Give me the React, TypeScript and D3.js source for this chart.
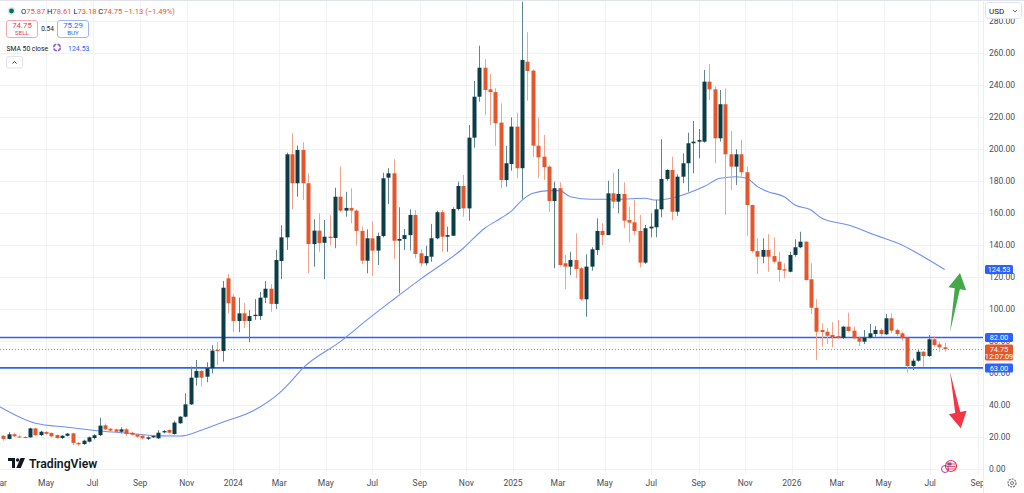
import React, { useEffect, useRef } from 'react';
import * as d3 from 'd3';

// weekly bars, first bar on Mon 6 Mar 2023
const firstBar = '2023-03-06';

const opens = [
  20.6, 18.6, 21.5, 20.1, 19.8, 19.6, 25.2, 21.0, 22.9, 22.3,
  21.0, 19.2, 20.6, 22.1, 16.1, 15.4, 16.9, 19.2, 21.0, 27.1,
  25.0, 24.6, 23.1, 24.6, 22.5, 21.4, 20.6, 18.7, 19.6, 19.0,
  22.7, 24.2, 21.7, 28.4, 32.5, 40.2, 56.9, 61.1, 57.5, 62.8,
  74.2, 73.6, 119.0, 107.5, 92.3, 97.1, 92.3, 95.4, 95.4, 106.9,
  112.5, 103.0, 129.8, 144.6, 196.5, 178.4, 199.2, 178.4, 140.4, 148.8,
  141.2, 145.0, 144.2, 170.0, 161.3, 163.0, 161.3, 148.6, 130.0, 144.0,
  136.3, 145.4, 181.9, 184.6, 142.5, 143.6, 146.0, 158.6, 134.6, 128.4,
  132.5, 144.0, 160.3, 145.0, 145.6, 162.3, 176.7, 162.7, 206.9, 232.5,
  250.6, 237.1, 235.4, 216.3, 180.4, 190.4, 213.8, 187.8, 254.4, 248.8,
  201.9, 195.0, 188.8, 167.3, 175.3, 128.4, 126.3, 130.4, 125.3, 105.9,
  126.3, 136.7, 148.6, 146.0, 172.1, 166.9, 171.7, 155.4, 154.0, 148.6,
  128.8, 150.2, 150.9, 162.1, 181.1, 186.7, 160.6, 182.5, 190.9, 203.4,
  204.4, 204.4, 241.9, 237.1, 206.5, 227.8, 196.5, 188.8, 196.5, 185.3,
  164.8, 136.0, 132.5, 136.7, 132.9, 129.4, 124.6, 123.1, 133.6, 138.4,
  141.9, 118.4, 100.6, 86.7, 85.6, 83.6, 82.9, 81.9, 88.8, 86.3,
  81.9, 79.4, 81.9, 84.2, 86.7, 84.0, 94.0, 86.7, 84.6, 81.9,
  64.2, 67.5, 73.1, 70.4, 80.9, 77.7, 75.87
];

const highs = [
  20.9, 22.9, 22.5, 20.8, 20.3, 25.6, 25.6, 23.7, 23.5, 22.7,
  21.4, 21.0, 22.3, 22.4, 16.7, 18.1, 20.2, 21.5, 31.9, 28.3,
  25.4, 25.0, 25.9, 25.4, 23.1, 22.0, 21.2, 20.2, 21.0, 24.2,
  24.2, 24.6, 30.0, 33.0, 47.1, 63.8, 67.9, 61.7, 66.5, 77.1,
  79.2, 117.3, 121.7, 109.0, 106.9, 103.5, 99.2, 106.0, 110.4, 117.3,
  115.5, 136.7, 152.1, 197.5, 209.6, 202.0, 204.0, 184.6, 155.9, 159.6,
  155.4, 158.4, 175.6, 188.8, 173.1, 175.3, 162.0, 151.3, 149.6, 154.8,
  147.5, 185.0, 187.8, 193.4, 163.4, 149.8, 162.1, 161.7, 137.1, 139.4,
  153.0, 161.3, 161.7, 151.3, 163.4, 179.4, 183.6, 214.8, 242.3, 264.4,
  256.0, 246.7, 237.8, 228.4, 201.7, 219.6, 222.5, 291.9, 272.8, 249.5,
  219.6, 208.6, 189.5, 179.4, 179.0, 133.6, 135.6, 147.1, 126.0, 134.0,
  138.4, 156.5, 153.4, 180.0, 185.0, 187.3, 179.0, 163.8, 168.0, 158.6,
  152.3, 159.6, 168.0, 205.9, 187.1, 195.0, 184.0, 197.1, 210.0, 217.3,
  212.3, 249.2, 252.9, 238.8, 236.7, 237.7, 211.0, 199.6, 205.4, 188.8,
  165.0, 144.0, 144.0, 146.7, 144.6, 135.6, 128.4, 135.6, 143.4, 148.1,
  142.2, 128.4, 105.9, 90.9, 88.0, 91.5, 93.0, 89.0, 97.5, 88.8,
  82.5, 86.7, 90.4, 89.2, 87.7, 96.7, 97.1, 87.7, 85.6, 81.9,
  69.0, 74.2, 73.6, 83.6, 82.9, 79.4, 78.61
];

const lows = [
  17.5, 18.3, 19.8, 19.2, 19.0, 19.4, 20.4, 20.3, 21.3, 19.6,
  18.7, 18.5, 20.2, 14.6, 14.4, 14.9, 16.5, 18.3, 20.4, 24.2,
  23.4, 22.7, 22.1, 20.4, 20.8, 19.4, 18.4, 17.9, 19.2, 18.6,
  22.1, 22.1, 21.3, 28.0, 32.1, 39.8, 51.9, 51.3, 54.0, 59.6,
  64.8, 66.9, 97.1, 85.3, 85.3, 88.0, 79.0, 93.0, 93.0, 103.5,
  98.1, 99.8, 118.4, 136.7, 162.1, 170.0, 167.9, 122.1, 126.3, 135.6,
  118.4, 139.8, 137.8, 160.4, 157.5, 153.4, 139.4, 128.0, 122.1, 120.6,
  127.3, 144.6, 165.4, 131.0, 109.6, 136.7, 136.3, 131.5, 126.3, 126.9,
  129.4, 143.4, 135.6, 135.6, 145.4, 161.3, 157.5, 155.0, 200.6, 229.4,
  221.0, 214.8, 201.7, 175.3, 176.3, 186.3, 181.5, 168.6, 230.0, 195.0,
  181.5, 180.4, 160.6, 125.3, 126.3, 112.1, 121.0, 119.0, 105.0, 95.0,
  123.8, 133.6, 139.8, 146.0, 162.7, 159.6, 150.3, 141.3, 146.0, 125.9,
  128.0, 144.6, 144.6, 157.1, 180.0, 155.4, 158.0, 178.4, 173.1, 184.6,
  194.0, 203.8, 230.4, 190.9, 204.4, 158.6, 174.2, 177.3, 181.5, 145.6,
  135.0, 121.7, 128.4, 123.1, 128.4, 116.9, 119.0, 122.7, 132.5, 137.8,
  117.5, 96.7, 67.9, 76.3, 78.0, 75.9, 80.9, 81.0, 85.6, 80.9,
  76.7, 77.9, 81.5, 82.5, 82.5, 83.6, 84.6, 83.1, 80.0, 60.0,
  61.7, 66.9, 63.8, 70.0, 76.3, 73.1, 73.18
];

const closes = [
  18.6, 21.5, 20.3, 19.6, 19.4, 25.2, 21.0, 23.1, 21.8, 20.2,
  19.1, 20.6, 21.9, 16.1, 15.2, 17.5, 19.6, 20.9, 26.9, 24.6,
  23.8, 23.1, 24.6, 21.7, 21.2, 20.0, 19.0, 19.6, 20.4, 22.5,
  23.5, 22.5, 28.8, 32.5, 40.2, 56.9, 61.1, 56.9, 62.8, 73.8,
  73.5, 113.1, 103.4, 92.3, 97.1, 92.3, 95.4, 96.2, 106.9, 112.5,
  103.0, 130.4, 144.6, 196.5, 178.4, 199.2, 178.4, 140.4, 148.8, 141.0,
  145.0, 144.2, 170.0, 161.3, 163.0, 161.3, 148.6, 130.0, 144.0, 136.3,
  145.4, 181.5, 184.6, 142.5, 143.6, 146.0, 158.6, 134.2, 128.4, 132.9,
  144.0, 160.3, 145.0, 146.0, 162.3, 176.7, 162.7, 206.9, 232.5, 250.6,
  236.7, 235.4, 215.9, 180.4, 190.9, 213.8, 187.8, 255.4, 248.6, 201.9,
  194.6, 188.4, 167.3, 175.3, 127.3, 126.3, 130.4, 124.8, 105.9, 126.3,
  137.1, 148.6, 146.0, 172.1, 166.9, 171.7, 155.0, 153.8, 148.6, 128.8,
  150.3, 151.3, 162.1, 181.1, 186.7, 160.6, 182.5, 190.9, 203.4, 204.4,
  205.4, 241.9, 237.1, 206.5, 227.8, 196.5, 188.8, 196.5, 185.3, 164.8,
  136.0, 132.5, 136.7, 132.5, 129.4, 124.2, 123.8, 133.6, 138.4, 141.9,
  117.9, 100.6, 85.6, 85.4, 83.1, 82.3, 81.9, 88.8, 86.1, 81.5,
  79.4, 81.9, 84.6, 86.7, 84.2, 94.0, 86.3, 84.2, 81.5, 64.2,
  67.5, 73.1, 70.4, 80.9, 77.3, 75.9, 74.75
];

// SMA 50 at these bar numbers
const smaBars = [
  -1, 6, 12, 18, 24, 29, 33, 37, 41, 47, 52, 54, 56, 63, 68, 73, 78, 86, 90, 93,
  95, 97, 99, 102, 104, 106, 110, 115, 120, 122, 126, 131, 134, 137, 139, 141, 143, 146, 148, 151,
  153, 158, 163, 168, 172, 176
];
const smaValues = [
  39.3, 28.4, 25.9, 23.6, 22.0, 20.5, 20.4, 24.0, 29.0, 36.7, 48.5, 55.4, 62.8, 79.4, 93.0, 105.9, 118.5, 137.8, 150.3, 156.5,
  161.0, 167.9, 172.1, 173.8, 173.8, 170.0, 168.4, 168.4, 169.0, 167.9, 170.0, 176.3, 181.5, 182.5, 181.5, 176.3, 173.1, 170.0, 164.8, 161.7,
  156.5, 152.3, 146.0, 139.8, 132.5, 124.53
];

const priceTicks = [0, 20, 40, 60, 80, 100, 120, 140, 160, 180, 200, 220, 240, 260, 280];

const monthTicks = [
  '2023-03-01', '2023-05-01', '2023-07-01', '2023-09-01', '2023-11-01', '2024-01-01',
  '2024-03-01', '2024-05-01', '2024-07-01', '2024-09-01', '2024-11-01', '2025-01-01',
  '2025-03-01', '2025-05-01', '2025-07-01', '2025-09-01', '2025-11-01', '2026-01-01',
  '2026-03-01', '2026-05-01', '2026-07-01', '2026-09-01'
];
const monthLabels = [
  'Mar', 'May', 'Jul', 'Sep', 'Nov', '2024', 'Mar', 'May', 'Jul', 'Sep', 'Nov', '2025',
  'Mar', 'May', 'Jul', 'Sep', 'Nov', '2026', 'Mar', 'May', 'Jul', 'Sep'
];

const levelLines = [82, 63];
const lastPrice = 74.75;
const countdown = '12:07:09';
const smaLast = 124.53;
const changeText = ' \u22121.13 (\u22121.49%)';
const sellPrice = '74.75';
const buyPrice = '75.29';
const spread = '0.54';

// drawn arrows: from date/price to date/price
const arrowStarts = ['2026-07-27', '2026-07-27'];
const arrowStartPrices = [85.4, 60.5];
const arrowEnds = ['2026-08-09', '2026-08-10'];
const arrowEndPrices = [122.3, 25.3];
const arrowColors = ['#45a84a', '#f23645'];

const FONT = "Roboto, 'Liberation Sans', Arial, sans-serif";
const UP = '#0b3d46';
const UP_WICK = '#5e868c';
const DOWN = '#e4572c';
const DOWN_WICK = '#f3a389';

const App: React.FC = () => {
  const svgRef = useRef<SVGSVGElement>(null);

  useEffect(() => {
    if (!svgRef.current) return;
    const width = 1024;
    const height = 493;
    const plotRight = 983;
    const plotBottom = 475;

    const svg = d3.select(svgRef.current);
    svg.selectAll('*').remove();
    svg.attr('width', width).attr('height', height);

    svg.append('rect').attr('width', width).attr('height', height).attr('fill', '#ffffff');

    const parse = d3.utcParse('%Y-%m-%d');
    const start = parse(firstBar) as Date;
    const bars = opens.map((o, i) => ({
      date: d3.utcDay.offset(start, 7 * i),
      open: o,
      high: highs[i],
      low: lows[i],
      close: closes[i]
    }));

    const xScale = d3.scaleUtc()
      .domain([bars[0].date, bars[bars.length - 1].date])
      .range([3.3, 944.7]);
    const yScale = d3.scaleLinear().domain([0, 280]).range([468.7, 20.7]);

    svg.append('defs').append('clipPath').attr('id', 'plot-clip')
      .append('rect').attr('x', 0).attr('y', 0).attr('width', plotRight).attr('height', height);

    // grid
    const grid = svg.append('g');
    grid.selectAll('line.h').data(priceTicks).join('line')
      .attr('x1', 0).attr('x2', plotRight)
      .attr('y1', d => Math.round(yScale(d)) + 0.5).attr('y2', d => Math.round(yScale(d)) + 0.5)
      .attr('stroke', '#f0f2f6').attr('stroke-width', 1);
    const tickDates = monthTicks.map(d => parse(d) as Date);
    grid.selectAll('line.v').data(tickDates).join('line')
      .attr('x1', d => Math.round(xScale(d)) + 0.5).attr('x2', d => Math.round(xScale(d)) + 0.5)
      .attr('y1', 0).attr('y2', plotBottom)
      .attr('stroke', '#f0f2f6').attr('stroke-width', 1);

    // frame lines
    svg.append('line').attr('x1', 0).attr('x2', width).attr('y1', 0.5).attr('y2', 0.5)
      .attr('stroke', '#e0e3eb');
    svg.append('line').attr('x1', plotRight + 0.5).attr('x2', plotRight + 0.5)
      .attr('y1', 0).attr('y2', height).attr('stroke', '#e9ecf2');

    const plot = svg.append('g').attr('clip-path', 'url(#plot-clip)');

    // level lines
    plot.selectAll('line.level').data(levelLines).join('line')
      .attr('x1', 0).attr('x2', plotRight)
      .attr('y1', d => yScale(d)).attr('y2', d => yScale(d))
      .attr('stroke', '#2962ff').attr('stroke-width', 1.6);

    // last price dotted line
    plot.append('line')
      .attr('x1', 0).attr('x2', plotRight)
      .attr('y1', Math.round(yScale(lastPrice)) + 0.5).attr('y2', Math.round(yScale(lastPrice)) + 0.5)
      .attr('stroke', DOWN).attr('stroke-width', 1).attr('stroke-dasharray', '1 2').attr('opacity', 0.8);

    // SMA 50
    const smaPts = smaBars.map((b, i) => ({ date: d3.utcDay.offset(start, 7 * b), value: smaValues[i] }));
    const smaLine = d3.line<{ date: Date; value: number }>()
      .x(d => xScale(d.date))
      .y(d => yScale(d.value))
      .curve(d3.curveMonotoneX);
    plot.append('path').datum(smaPts)
      .attr('fill', 'none').attr('stroke', '#6f8ff5').attr('stroke-width', 1.1)
      .attr('d', smaLine);

    // candles
    const candles = plot.append('g');
    bars.forEach(b => {
      const up = b.close >= b.open;
      const cx = Math.round(xScale(b.date));
      candles.append('line')
        .attr('x1', cx + 0.5).attr('x2', cx + 0.5)
        .attr('y1', yScale(b.high)).attr('y2', yScale(b.low))
        .attr('stroke', up ? UP_WICK : DOWN_WICK).attr('stroke-width', 1);
      const top = yScale(Math.max(b.open, b.close));
      const bot = yScale(Math.min(b.open, b.close));
      candles.append('rect')
        .attr('x', cx - 1.5).attr('width', 4)
        .attr('y', top).attr('height', Math.max(1, bot - top))
        .attr('fill', up ? UP : DOWN);
    });

    // arrows
    arrowStarts.forEach((s, i) => {
      const x0 = xScale(parse(s) as Date);
      const y0 = yScale(arrowStartPrices[i]);
      const x1 = xScale(parse(arrowEnds[i]) as Date);
      const y1 = yScale(arrowEndPrices[i]);
      const len = Math.hypot(x1 - x0, y1 - y0);
      const ux = (x1 - x0) / len;
      const uy = (y1 - y0) / len;
      const nx = -uy;
      const ny = ux;
      const headLen = 16;
      const bx = x1 - ux * headLen;
      const by = y1 - uy * headLen;
      const pts: [number, number][] = [
        [x0, y0],
        [bx + nx * 2.6, by + ny * 2.6],
        [bx + nx * 9, by + ny * 9],
        [x1, y1],
        [bx - nx * 9, by - ny * 9],
        [bx - nx * 2.6, by - ny * 2.6]
      ];
      svg.append('path')
        .attr('d', d3.line()(pts) + 'Z')
        .attr('fill', arrowColors[i]);
    });

    // time axis labels
    svg.append('g').attr('clip-path', 'url(#plot-clip)')
      .selectAll('text').data(tickDates).join('text')
      .attr('x', d => xScale(d)).attr('y', 486)
      .attr('text-anchor', 'middle')
      .attr('font-family', FONT).attr('font-size', 8.5).attr('fill', '#4a4e59')
      .text((_, i) => monthLabels[i]);

    // price axis labels
    svg.append('g').selectAll('text').data(priceTicks).join('text')
      .attr('x', 989).attr('y', d => yScale(d) + 3)
      .attr('font-family', FONT).attr('font-size', 8.5).attr('fill', '#4a4e59')
      .text(d => d.toFixed(2));

    // price axis badges
    const badge = (value: number, fill: string, lines: string[]) => {
      const y = yScale(value);
      const h = lines.length > 1 ? 16 : 9;
      const top = y - 4.5;
      svg.append('rect').attr('x', 985).attr('y', top).attr('width', 28).attr('height', h)
        .attr('rx', 1.5).attr('fill', fill);
      lines.forEach((t, k) => {
        svg.append('text').attr('x', 999).attr('y', top + 7.2 + k * 7.6)
          .attr('text-anchor', 'middle')
          .attr('font-family', FONT).attr('font-size', 7.4).attr('fill', '#ffffff')
          .text(t);
      });
    };
    badge(smaLast, '#2962ff', [smaLast.toFixed(2)]);
    levelLines.forEach(v => badge(v, '#2962ff', [v.toFixed(2)]));
    badge(lastPrice, DOWN, [lastPrice.toFixed(2), countdown]);

    // USD box
    svg.append('rect').attr('x', 985.5).attr('y', 2.5).attr('width', 36).attr('height', 16)
      .attr('rx', 3).attr('fill', '#ffffff').attr('stroke', '#e0e3eb');
    svg.append('text').attr('x', 989).attr('y', 13.5)
      .attr('font-family', FONT).attr('font-size', 8).attr('fill', '#131722').text('USD');
    svg.append('path').attr('d', 'M1013,10 l2,2 l2,-2').attr('fill', 'none')
      .attr('stroke', '#50535e').attr('stroke-width', 0.9);

    // gear icon
    svg.append('circle').attr('cx', 1012).attr('cy', 483).attr('r', 4)
      .attr('fill', 'none').attr('stroke', '#6a6d78').attr('stroke-width', 1.2)
      .attr('stroke-dasharray', '2 1');
    svg.append('circle').attr('cx', 1012).attr('cy', 483).attr('r', 1.5)
      .attr('fill', 'none').attr('stroke', '#6a6d78').attr('stroke-width', 0.9);

    // events icon
    svg.append('circle').attr('cx', 951).attr('cy', 466).attr('r', 5.5)
      .attr('fill', '#ffffff').attr('stroke', '#f23645').attr('stroke-width', 1.2);
    svg.append('rect').attr('x', 947.5).attr('y', 462.5).attr('width', 4).attr('height', 3).attr('fill', '#2962ff');
    [464, 466.5, 469].forEach(y => {
      svg.append('line').attr('x1', 947).attr('x2', 955.5).attr('y1', y).attr('y2', y)
        .attr('stroke', '#f23645').attr('stroke-width', 0.9);
    });
    svg.append('circle').attr('cx', 945).attr('cy', 469).attr('r', 3.5)
      .attr('fill', 'none').attr('stroke', '#9c27b0').attr('stroke-width', 0.9);

    // legend
    const legend = svg.append('g').attr('font-family', FONT);
    legend.append('circle').attr('cx', 11.5).attr('cy', 11).attr('r', 4)
      .attr('fill', '#d9efe7');
    legend.append('circle').attr('cx', 11.5).attr('cy', 11).attr('r', 2.4)
      .attr('fill', '#0b6b57');
    const ohlc = legend.append('text').attr('x', 21).attr('y', 14).attr('font-size', 7.8)
      .attr('textLength', 154).attr('lengthAdjust', 'spacingAndGlyphs');
    const last = bars[bars.length - 1];
    const parts: [string, string][] = [
      ['O', last.open.toFixed(2)], [' H', last.high.toFixed(2)],
      [' L', last.low.toFixed(2)], [' C', last.close.toFixed(2)]
    ];
    parts.forEach(([k, v]) => {
      ohlc.append('tspan').attr('fill', '#131722').text(k);
      ohlc.append('tspan').attr('fill', DOWN).text(v);
    });
    ohlc.append('tspan').attr('fill', DOWN).text(changeText);

    // sell / buy
    legend.append('rect').attr('x', 6.5).attr('y', 20.5).attr('width', 31).attr('height', 17)
      .attr('rx', 2.5).attr('fill', '#ffffff').attr('stroke', '#f7a6ad');
    legend.append('text').attr('x', 22).attr('y', 28).attr('text-anchor', 'middle')
      .attr('font-size', 7.8).attr('fill', '#f23645').text(sellPrice);
    legend.append('text').attr('x', 22).attr('y', 35.3).attr('text-anchor', 'middle')
      .attr('font-size', 6.2).attr('fill', '#f23645').text('SELL');
    legend.append('text').attr('x', 47.5).attr('y', 31).attr('text-anchor', 'middle')
      .attr('font-size', 6.5).attr('fill', '#131722').text(spread);
    legend.append('rect').attr('x', 57.5).attr('y', 20.5).attr('width', 31).attr('height', 17)
      .attr('rx', 2.5).attr('fill', '#ffffff').attr('stroke', '#9db5fb');
    legend.append('text').attr('x', 73).attr('y', 28).attr('text-anchor', 'middle')
      .attr('font-size', 7.8).attr('fill', '#2962ff').text(buyPrice);
    legend.append('text').attr('x', 73).attr('y', 35.3).attr('text-anchor', 'middle')
      .attr('font-size', 6.2).attr('fill', '#2962ff').text('BUY');

    // SMA row
    legend.append('text').attr('x', 6.5).attr('y', 50.5).attr('font-size', 7.8)
      .attr('textLength', 41.5).attr('lengthAdjust', 'spacingAndGlyphs')
      .attr('fill', '#131722').text('SMA 50 close');
    legend.append('circle').attr('cx', 57).attr('cy', 47.5).attr('r', 3.3)
      .attr('fill', 'none').attr('stroke', '#8e5bd6').attr('stroke-width', 1.6)
      .attr('stroke-dasharray', '4 1.2');
    legend.append('text').attr('x', 68).attr('y', 50.5).attr('font-size', 7.8)
      .attr('textLength', 21.5).attr('lengthAdjust', 'spacingAndGlyphs')
      .attr('fill', '#2962ff').text(smaLast.toFixed(2));

    // collapse button
    legend.append('rect').attr('x', 6.5).attr('y', 56.5).attr('width', 16).attr('height', 11.5)
      .attr('rx', 2).attr('fill', '#ffffff').attr('stroke', '#e0e3eb');
    legend.append('path').attr('d', 'M12.5,63.5 l2,-2 l2,2').attr('fill', 'none')
      .attr('stroke', '#131722').attr('stroke-width', 0.9);

    // TradingView logo
    const logo = svg.append('g');
    logo.append('path').attr('d', 'M8,458 h7 v10 h-3 v-7 h-4 Z').attr('fill', '#131722');
    logo.append('circle').attr('cx', 17.6).attr('cy', 460).attr('r', 1.7).attr('fill', '#131722');
    logo.append('path').attr('d', 'M20.5,458 h4.5 l-4.2,10 h-4.5 Z').attr('fill', '#131722');
    logo.append('text').attr('x', 29).attr('y', 468).attr('font-family', FONT)
      .attr('font-size', 12.2).attr('font-weight', 600).attr('fill', '#131722')
      .text('TradingView');
  }, []);

  return (
    <svg
      ref={svgRef}
      style={{ position: 'absolute', left: 0, top: 0, display: 'block' }}
    />
  );
};

export default App;
